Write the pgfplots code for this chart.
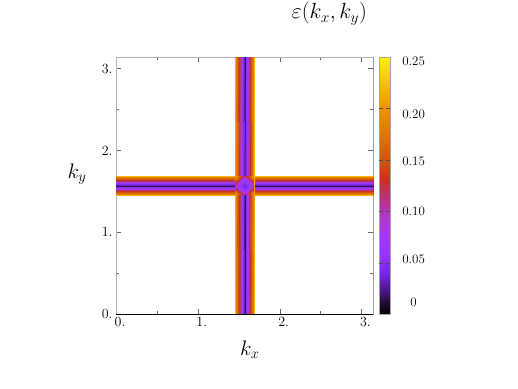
\RequirePackage{fix-cm}
\documentclass[border=0pt]{standalone}
\usepackage{pgfplots}
\pgfplotsset{compat=1.18}
\begin{document}
\begin{tikzpicture}
\path[use as bounding box] (0,0) rectangle (518pt,388pt);
\begin{axis}[
  at={(116pt,74pt)}, anchor=south west,
  width=257pt, height=257pt, scale only axis,
  xmin=0, xmax=3.1416, ymin=0, ymax=3.1416,
  xtick={0,1,2,3}, ytick={0,1,2,3},
  xticklabels={0.,1.,2.,3.}, yticklabels={0.,1.,2.,3.},
  minor xtick={0.5,1.5,2.5}, minor ytick={0.5,1.5,2.5},
  tick align=inside, major tick length=5pt, minor tick length=3pt,
  tick style={gray!80!black},
  axis line style={gray!60},
  ticklabel style={font=\fontsize{14}{16}\selectfont},
  xticklabel style={xshift=4pt},
  xlabel={$k_x$}, ylabel={$k_y$},
  xlabel style={font=\fontsize{21}{23}\selectfont, at={(axis description cs:0.521,-0.16)}, anchor=base, rotate=0},
  ylabel style={font=\fontsize{21}{23}\selectfont, at={(axis description cs:-0.152,0.529)}, anchor=base, rotate=-90},
  title={$\varepsilon(k_x,k_y)$},
  title style={font=\fontsize{22}{24}\selectfont, at={(axis description cs:0.83,1)}, anchor=base, yshift=32pt},
  colormap={sunset}{rgb255(0pt)=(0,0,0); rgb255(2pt)=(30,10,45); rgb255(4pt)=(65,20,115);
    rgb255(8pt)=(120,40,225); rgb255(12pt)=(150,55,255); rgb255(18pt)=(175,55,215);
    rgb255(22pt)=(185,50,140); rgb255(26pt)=(195,50,35); rgb255(30pt)=(210,85,10);
    rgb255(40pt)=(238,145,0); rgb255(50pt)=(255,240,20)},
  point meta min=0, point meta max=0.25,
  colorbar,
  colorbar shift/.style={xshift=5pt},
  colorbar style={
    width=11pt,
    axis line style={gray!70},
    ytick={0.011,0.0535,0.1002,0.1488,0.1946,0.2456},
    yticklabels={0,0.05,0.10,0.15,0.20,0.25},
    major tick length=0pt,
    extra y ticks={0.05,0.1,0.15,0.2}, extra y tick labels={},
    extra y tick style={major tick length=4pt, tick style={black!70}},
    yticklabel style={anchor=west, text width=34pt, align=center, xshift=3pt, font=\fontsize{13}{15}\selectfont},
  },
]

% horizontal band (ky ~ pi/2)
\addplot[surf, shader=interp, mesh/cols=2, point meta=explicit] table[x=x, y=y, meta=v] {
x y v
0 1.4508 0.22
3.1416 1.4508 0.22
0 1.4708 0.185
3.1416 1.4708 0.185
0 1.4908 0.15
3.1416 1.4908 0.15
0 1.5108 0.115
3.1416 1.5108 0.115
0 1.5308 0.08
3.1416 1.5308 0.08
0 1.5508 0.05
3.1416 1.5508 0.05
0 1.5708 0.015
3.1416 1.5708 0.015
0 1.5908 0.05
3.1416 1.5908 0.05
0 1.6108 0.08
3.1416 1.6108 0.08
0 1.6308 0.115
3.1416 1.6308 0.115
0 1.6508 0.15
3.1416 1.6508 0.15
0 1.6708 0.185
3.1416 1.6708 0.185
0 1.6908 0.22
3.1416 1.6908 0.22
};

% vertical band (kx ~ pi/2)
\addplot[surf, shader=interp, mesh/cols=13, point meta=explicit] table[x=x, y=y, meta=v] {
x y v
1.4508 0 0.22
1.4708 0 0.185
1.4908 0 0.15
1.5108 0 0.115
1.5308 0 0.08
1.5508 0 0.05
1.5708 0 0.015
1.5908 0 0.05
1.6108 0 0.08
1.6308 0 0.115
1.6508 0 0.15
1.6708 0 0.185
1.6908 0 0.22
1.4508 3.1416 0.22
1.4708 3.1416 0.185
1.4908 3.1416 0.15
1.5108 3.1416 0.115
1.5308 3.1416 0.08
1.5508 3.1416 0.05
1.5708 3.1416 0.015
1.5908 3.1416 0.05
1.6108 3.1416 0.08
1.6308 3.1416 0.115
1.6508 3.1416 0.15
1.6708 3.1416 0.185
1.6908 3.1416 0.22
};

% crossing
\addplot[surf, shader=interp, mesh/cols=7, point meta=explicit] table[x=x, y=y, meta=v] {
x y v
1.4558 1.4558 0.21
1.4858 1.4558 0.18
1.5308 1.4558 0.14
1.5708 1.4558 0.11
1.6108 1.4558 0.14
1.6558 1.4558 0.18
1.6858 1.4558 0.21
1.4558 1.4858 0.18
1.4858 1.4858 0.15
1.5308 1.4858 0.10
1.5708 1.4858 0.07
1.6108 1.4858 0.10
1.6558 1.4858 0.15
1.6858 1.4858 0.18
1.4558 1.5308 0.14
1.4858 1.5308 0.10
1.5308 1.5308 0.065
1.5708 1.5308 0.055
1.6108 1.5308 0.065
1.6558 1.5308 0.10
1.6858 1.5308 0.14
1.4558 1.5708 0.11
1.4858 1.5708 0.07
1.5308 1.5708 0.055
1.5708 1.5708 0.035
1.6108 1.5708 0.055
1.6558 1.5708 0.07
1.6858 1.5708 0.11
1.4558 1.6108 0.14
1.4858 1.6108 0.10
1.5308 1.6108 0.065
1.5708 1.6108 0.055
1.6108 1.6108 0.065
1.6558 1.6108 0.10
1.6858 1.6108 0.14
1.4558 1.6558 0.18
1.4858 1.6558 0.15
1.5308 1.6558 0.10
1.5708 1.6558 0.07
1.6108 1.6558 0.10
1.6558 1.6558 0.15
1.6858 1.6558 0.18
1.4558 1.6858 0.21
1.4858 1.6858 0.18
1.5308 1.6858 0.14
1.5708 1.6858 0.11
1.6108 1.6858 0.14
1.6558 1.6858 0.18
1.6858 1.6858 0.21
};

\draw[black] (rel axis cs:0,0) -- (rel axis cs:1,0) -- (rel axis cs:1,1);
\end{axis}
\end{tikzpicture}
\end{document}
